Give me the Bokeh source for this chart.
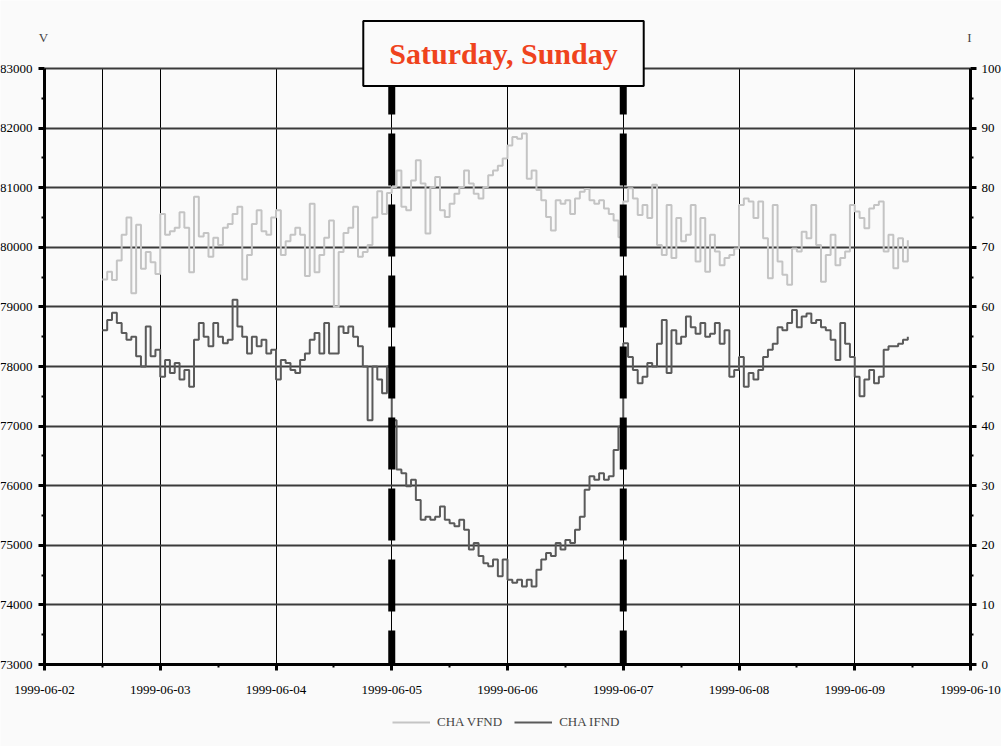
import pandas as pd
from bokeh.plotting import figure
from bokeh.models import (Range1d, LinearAxis, FixedTicker, Label, Legend,
                          LegendItem, DatetimeTickFormatter)
from bokeh.embed import file_html
from bokeh.resources import INLINE

# ---------------- data (hourly readings from 1999-06-02 12:00) ----------------
start_time = "1999-06-02 12:00"
vfnd = [
    79460, 79590, 79450, 79780, 80210, 80500, 79230, 80380, 79640, 79920, 79750, 79550,
    80560, 80210, 80270, 80330, 80590, 80330, 79580, 80850, 80180, 80240, 79840, 80160,
    80040, 80330, 80390, 80560, 80680, 79460, 79870, 80390, 80620, 80270, 80210, 80500,
    80620, 79870, 80100, 80210, 80330, 80210, 79520, 80730, 79580, 79870, 80160, 80450,
    79000, 79920, 80240, 80330, 80680, 79840, 79920, 80040, 80500, 80940, 80560, 80910,
    81010, 81290, 80680, 80620, 81120, 81460, 81070, 80230, 81010, 81180, 80620, 80510,
    80730, 80900, 81010, 81290, 81070, 80900, 80820, 81010, 81210, 81290, 81370, 81490,
    81710, 81850, 81820, 81910, 81150, 81290, 80960, 80790, 80510, 80280, 80790, 80730,
    80790, 80560, 80820, 80930, 80980, 80790, 80730, 80790, 80650, 80560, 80450, 80170,
    80770, 80990, 80820, 80540, 80710, 80490, 81050, 80040, 79870, 80710, 79820, 80490,
    80100, 80210, 80710, 79760, 80490, 79590, 80210, 79930, 79700, 79820, 79870, 79980,
    80710, 80820, 80770, 80490, 80770, 80150, 79480, 80710, 79760, 79540, 79370, 79980,
    79930, 80260, 80150, 80710, 80040, 79420, 79870, 80210, 79700, 79820, 79930, 80710,
    80600, 80490, 80320, 80650, 80710, 80770, 79930, 80210, 79650, 80150, 79760, 80120,
]
ifnd = [
    56.1, 57.8, 59.0, 57.3, 55.6, 54.5, 55.0, 51.7, 50.0, 56.7, 51.7, 52.8,
    48.3, 51.1, 48.9, 50.6, 47.8, 49.4, 46.6, 54.5, 57.3, 55.0, 53.4, 57.3,
    55.0, 53.9, 54.5, 61.2, 56.7, 55.0, 52.2, 55.0, 53.4, 54.5, 52.2, 52.8,
    47.8, 51.1, 50.6, 49.4, 48.9, 51.1, 52.2, 54.5, 55.6, 52.2, 57.3, 52.2,
    52.2, 56.7, 55.6, 56.7, 55.0, 53.4, 50.0, 41.0, 50.0, 47.8, 45.5, 50.0,
    41.0, 32.7, 32.1, 29.9, 31.0, 27.6, 24.3, 24.8, 24.3, 24.8, 26.5, 24.3,
    23.7, 23.2, 24.3, 22.6, 19.3, 20.4, 18.2, 17.0, 16.5, 17.6, 14.8, 17.6,
    14.2, 13.7, 14.2, 13.1, 14.2, 13.1, 15.9, 17.6, 18.7, 18.2, 20.4, 19.3,
    20.9, 20.4, 22.6, 24.8, 29.3, 31.6, 31.0, 32.1, 31.0, 31.6, 36.0, 39.9,
    53.9, 51.6, 49.4, 47.2, 48.3, 50.6, 50.0, 53.8, 57.8, 48.9, 56.1, 53.8,
    55.0, 58.4, 56.6, 55.5, 57.3, 55.0, 55.5, 57.3, 53.8, 56.1, 48.3, 49.4,
    51.6, 46.6, 48.9, 47.8, 49.4, 51.6, 52.8, 53.8, 56.6, 56.1, 57.3, 59.5,
    56.6, 58.4, 58.9, 57.3, 57.8, 56.6, 56.1, 54.5, 51.1, 57.3, 53.8, 51.6,
    48.3, 45.0, 47.8, 49.4, 47.2, 48.3, 52.8, 53.4, 53.4, 53.8, 54.5, 55.0,
]
series_names = ["CHA VFND", "CHA IFND"]
x_start, x_end = "1999-06-02", "1999-06-10"
weekend_bounds = ["1999-06-05", "1999-06-07"]
annotation_text = "Saturday, Sunday"
v_min, v_max = 73000, 83000
i_min, i_max = 0, 100
v_ticks = list(range(v_min, v_max + 1, 1000))
i_ticks = list(range(i_min, i_max + 1, 10))

# ---------------- layout constants (pixels) ----------------
W, H = 1001, 746
FRAME_L, FRAME_R, FRAME_T, FRAME_B = 44, 970, 68, 664   # where the axes sit
BG = "#fafafa"
FONT = "Liberation Serif"
DAY = 24 * 3600 * 1000

def ms(t):
    return pd.Timestamp(t).value / 1e6

times = pd.date_range(start_time, periods=len(vfnd), freq="h")
day_ticks = [ms(t) for t in pd.date_range(x_start, x_end, freq="D")]
half_ticks = [t + DAY / 2 for t in day_ticks[:-1]]
grid_ticks = [ms(times[0])] + day_ticks[1:-1]

# ranges extended so the whole canvas is the frame (axes are placed with fixed_location)
x0, x1 = ms(x_start), ms(x_end)
px_per_ms = (FRAME_R - FRAME_L) / (x1 - x0)
xr = Range1d(x0 - FRAME_L / px_per_ms, x1 + (W - FRAME_R) / px_per_ms)
px_per_v = (FRAME_B - FRAME_T) / (v_max - v_min)
yr = Range1d(v_min - (H - FRAME_B) / px_per_v, v_max + FRAME_T / px_per_v)
px_per_i = (FRAME_B - FRAME_T) / (i_max - i_min)
ir = Range1d(i_min - (H - FRAME_B) / px_per_i, i_max + FRAME_T / px_per_i)

p = figure(width=W, height=H, x_axis_type="datetime", output_backend="svg",
           toolbar_location=None, x_range=xr, y_range=yr, min_border=0,
           background_fill_color=BG, border_fill_color=BG, outline_line_color=None)
p.extra_y_ranges = {"I": ir}

# grids
p.ygrid.ticker = FixedTicker(ticks=v_ticks)
p.ygrid.grid_line_color = "#3a3a3a"
p.ygrid.grid_line_width = 2
p.ygrid.cross_bounds = (x0, x1)
p.xgrid.ticker = FixedTicker(ticks=grid_ticks)
p.xgrid.grid_line_color = "black"
p.xgrid.grid_line_width = 1
p.xgrid.cross_bounds = (v_min, v_max)

def style_axis(ax):
    ax.axis_line_width = 3
    ax.axis_line_color = "black"
    ax.major_tick_line_width = 3
    ax.major_tick_out = 6
    ax.major_tick_in = 0
    ax.minor_tick_line_width = 2
    ax.minor_tick_out = 3
    ax.minor_tick_in = 0
    ax.major_label_text_font = FONT
    ax.major_label_text_font_size = "13px"
    ax.major_label_text_color = "black"

# bottom axis
xa = p.xaxis[0]
xa.ticker = FixedTicker(ticks=day_ticks, minor_ticks=half_ticks)
xa.formatter = DatetimeTickFormatter(days="%Y-%m-%d", months="%Y-%m-%d", hours="%Y-%m-%d")
xa.bounds = (x0, x1)
xa.fixed_location = v_min
style_axis(xa)
xa.major_label_standoff = 15

# left axis
ya = p.yaxis[0]
ya.ticker = FixedTicker(ticks=v_ticks, minor_ticks=[v + 500 for v in v_ticks[:-1]])
ya.bounds = (v_min, v_max)
ya.fixed_location = x0
style_axis(ya)
ya.major_label_standoff = 6

# right axis
ra = LinearAxis(y_range_name="I",
                ticker=FixedTicker(ticks=i_ticks, minor_ticks=[i + 5 for i in i_ticks[:-1]]))
ra.bounds = (i_min, i_max)
ra.fixed_location = x1
style_axis(ra)
ra.major_label_standoff = 5
p.add_layout(ra, "right")

# series
r_v = p.step(x=times, y=vfnd, mode="after", line_color="#c4c4c4", line_width=2)
r_i = p.step(x=times, y=ifnd, mode="after", line_color="#5a5a5a", line_width=2,
             y_range_name="I")

# weekend markers (top to bottom)
wx = [ms(w) for w in weekend_bounds]
p.segment(x0=wx, y0=[v_max] * len(wx), x1=wx, y1=[v_min] * len(wx),
          line_color="black", line_width=7, line_dash="52 19", line_dash_offset=6)

# annotation box
p.add_layout(Label(x=503, y=H - 53, x_units="screen", y_units="screen", text=annotation_text,
                   text_font=FONT, text_font_style="bold", text_font_size="30px",
                   text_color="#ef431d", text_align="center", text_baseline="middle",
                   background_fill_color=BG, border_line_color="black", border_line_width=2,
                   padding=(26, 16)))

# axis unit labels
p.add_layout(Label(x=43, y=H - 37, x_units="screen", y_units="screen", text="V",
                   text_font=FONT, text_font_size="13px", text_align="center",
                   text_baseline="middle"))
p.add_layout(Label(x=969, y=H - 37, x_units="screen", y_units="screen", text="I",
                   text_font=FONT, text_font_size="13px", text_align="center",
                   text_baseline="middle"))

legend = Legend(items=[LegendItem(label=series_names[0], renderers=[r_v]),
                       LegendItem(label=series_names[1], renderers=[r_i])],
                orientation="horizontal", location=(392, 16), padding=0, margin=0,
                spacing=12, label_standoff=7, glyph_width=38, glyph_height=16,
                label_height=16, label_text_font=FONT, label_text_font_size="13px",
                border_line_color=None, background_fill_alpha=0)
p.add_layout(legend)

open("out.html", "w").write(file_html(p, INLINE))
